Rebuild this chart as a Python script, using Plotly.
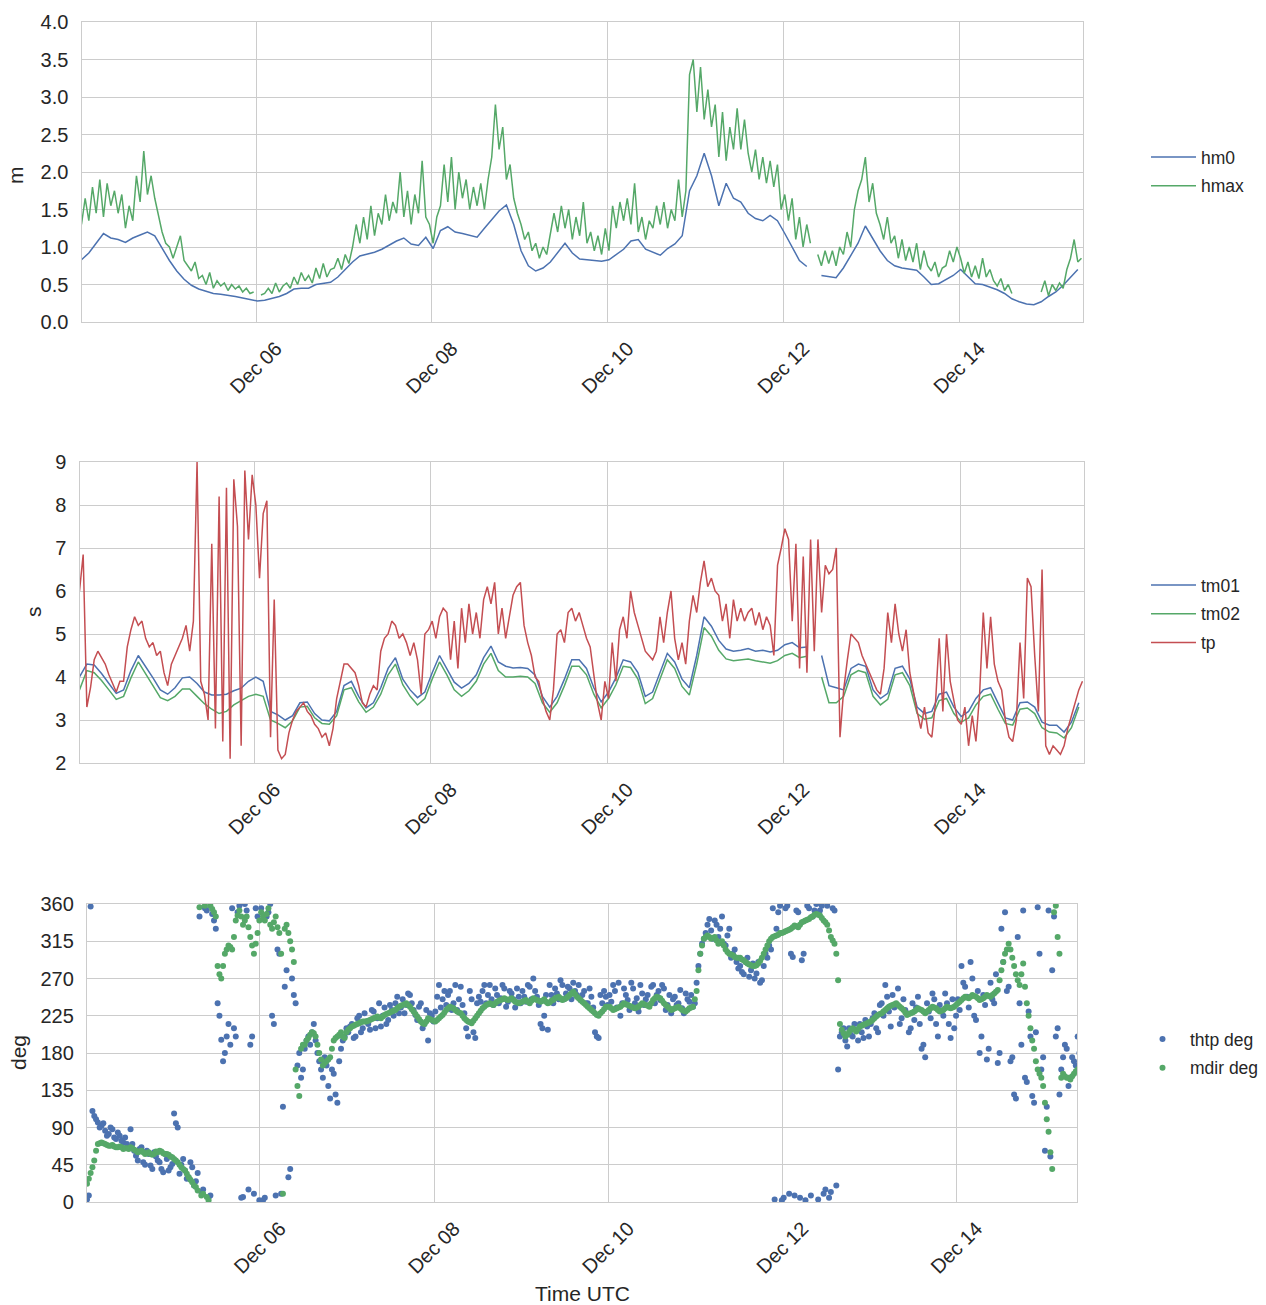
import pandas as pd
import plotly.graph_objects as go

START = "2015-12-04 00:20"

# ---------------- Panel 1: wave heights (m) ----------------
# hm0, 2-hourly
hm0 = [0.83, 0.92, 1.05, 1.18, 1.12, 1.10, 1.06, 1.12, 1.16, 1.20, 1.15, 0.98,
       0.82, 0.68, 0.57, 0.49, 0.44, 0.41, 0.38, 0.37, 0.36, 0.34, 0.32, 0.30,
       0.28, 0.29, 0.31, 0.34, 0.38, 0.44, 0.45, 0.45, 0.50, 0.52, 0.53, 0.60,
       0.70, 0.80, 0.88, 0.90, 0.93, 0.97, 1.03, 1.08, 1.12, 1.04, 1.02, 1.13,
       0.98, 1.22, 1.27, 1.20, 1.18, 1.15, 1.13, 1.25, 1.36, 1.48, 1.56, 1.30,
       0.95, 0.75, 0.68, 0.72, 0.80, 0.92, 1.05, 0.92, 0.84, 0.83, 0.82, 0.81,
       0.83, 0.90, 0.97, 1.08, 1.10, 0.97, 0.93, 0.89, 0.98, 1.04, 1.15, 1.75,
       1.95, 2.25, 1.95, 1.55, 1.85, 1.65, 1.60, 1.45, 1.38, 1.35, 1.42, 1.35,
       1.18, 0.99, 0.82, 0.74, None, 0.62, 0.60, 0.59, 0.72, 0.88, 1.05, 1.28,
       1.12, 0.95, 0.82, 0.75, 0.72, 0.70, 0.69, 0.60, 0.50, 0.51, 0.56, 0.62,
       0.70, 0.60, 0.51, 0.50, 0.47, 0.43, 0.38, 0.31, 0.27, 0.24, 0.23, 0.27,
       0.34, 0.40, 0.49, 0.60, 0.70]

# hmax, hourly
hmax = [1.30, 1.65, 1.35, 1.80, 1.45, 1.90, 1.40, 1.85, 1.55, 1.75, 1.45, 1.70,
        1.25, 1.55, 1.35, 1.95, 1.60, 2.28, 1.70, 1.95, 1.65, 1.40, 1.20, 1.05,
        1.00, 0.85, 1.00, 1.15, 0.82, 0.75, 0.68, 0.80, 0.58, 0.62, 0.50, 0.66,
        0.45, 0.55, 0.48, 0.52, 0.42, 0.50, 0.44, 0.48, 0.40, 0.45, 0.38, 0.40,
        None, 0.36, 0.38, 0.45, 0.38, 0.52, 0.40, 0.48, 0.52, 0.45, 0.60, 0.50,
        0.66, 0.55, 0.62, 0.52, 0.72, 0.58, 0.78, 0.60, 0.70, 0.72, 0.85, 0.70,
        0.90, 0.78, 1.00, 1.30, 1.05, 1.40, 1.10, 1.55, 1.15, 1.45, 1.30, 1.70,
        1.35, 1.60, 1.45, 2.00, 1.40, 1.75, 1.30, 1.70, 1.45, 2.15, 1.40, 1.30,
        1.05, 1.40, 1.55, 2.10, 1.60, 2.20, 1.50, 2.00, 1.65, 1.90, 1.50, 1.80,
        1.55, 1.85, 1.50, 1.90, 2.20, 2.90, 2.30, 2.60, 1.90, 2.10, 1.65, 1.45,
        1.30, 1.10, 1.20, 0.95, 1.05, 0.85, 1.00, 0.90, 1.15, 1.45, 1.20, 1.55,
        1.25, 1.50, 1.10, 1.40, 1.15, 1.60, 1.05, 1.20, 0.95, 1.15, 0.90, 1.25,
        0.95, 1.55, 1.25, 1.60, 1.35, 1.65, 1.30, 1.85, 1.20, 1.40, 1.10, 1.35,
        1.25, 1.55, 1.30, 1.60, 1.25, 1.50, 1.35, 1.90, 1.40, 1.75, 3.30, 3.50,
        2.80, 3.40, 2.70, 3.10, 2.60, 2.90, 2.20, 2.80, 2.15, 2.60, 2.30, 2.85,
        2.30, 2.70, 2.25, 2.00, 2.30, 1.90, 2.20, 1.85, 2.15, 1.80, 2.10, 1.50,
        1.70, 1.35, 1.65, 1.10, 1.40, 1.00, 1.30, 1.05, None, 0.90, 0.75, 0.95,
        0.78, 0.95, 0.75, 1.00, 0.90, 1.20, 1.00, 1.50, 1.75, 1.90, 2.20, 1.60,
        1.85, 1.45, 1.30, 1.10, 1.40, 1.05, 1.15, 0.85, 1.10, 0.82, 1.00, 0.80,
        1.05, 0.70, 0.95, 0.75, 0.68, 0.80, 0.60, 0.72, 0.75, 0.95, 0.80, 1.00,
        0.85, 0.65, 0.80, 0.60, 0.75, 0.58, 0.85, 0.60, 0.70, 0.55, 0.48, 0.58,
        0.42, 0.50, 0.38, None, None, None, None, None, None, None, 0.40, 0.55,
        0.35, 0.50, 0.42, 0.52, 0.45, 0.70, 0.85, 1.10, 0.80, 0.85]

# ---------------- Panel 2: wave periods (s) ----------------
tm01 = [4.00, 4.30, 4.28, 4.08, 3.85, 3.62, 3.70, 4.15, 4.50, 4.25, 3.98, 3.70,
        3.60, 3.75, 3.98, 4.00, 3.85, 3.65, 3.58, 3.58, 3.60, 3.68, 3.74, 3.90,
        4.00, 3.90, 3.20, 3.12, 3.00, 3.10, 3.40, 3.42, 3.15, 3.00, 2.98, 3.20,
        3.80, 3.90, 3.55, 3.28, 3.40, 3.75, 4.20, 4.45, 3.95, 3.70, 3.52, 3.65,
        4.10, 4.50, 4.20, 3.88, 3.74, 3.85, 4.05, 4.45, 4.72, 4.35, 4.25, 4.21,
        4.22, 4.20, 4.05, 3.55, 3.30, 3.55, 3.95, 4.40, 4.40, 4.20, 3.75, 3.42,
        3.65, 3.98, 4.40, 4.35, 4.10, 3.55, 3.65, 4.10, 4.55, 4.35, 3.95, 3.75,
        4.50, 5.40, 5.18, 4.85, 4.65, 4.60, 4.62, 4.66, 4.60, 4.62, 4.58, 4.62,
        4.75, 4.80, 4.68, 4.70, None, 4.50, 3.80, 3.75, 3.70, 4.20, 4.30, 4.25,
        3.70, 3.50, 3.62, 4.20, 4.25, 3.95, 3.30, 3.15, 3.20, 3.60, 3.65, 3.30,
        3.08, 3.20, 3.50, 3.70, 3.75, 3.40, 3.05, 3.00, 3.40, 3.42, 3.30, 2.95,
        2.88, 2.88, 2.72, 2.95, 3.40]

tm02 = [3.70, 4.15, 4.10, 3.92, 3.70, 3.48, 3.55, 3.98, 4.35, 4.08, 3.80, 3.52,
        3.45, 3.55, 3.72, 3.72, 3.55, 3.38, 3.25, 3.15, 3.20, 3.35, 3.45, 3.55,
        3.60, 3.55, 3.00, 2.92, 2.82, 2.98, 3.30, 3.32, 3.05, 2.92, 2.90, 3.10,
        3.70, 3.75, 3.42, 3.18, 3.30, 3.60, 4.05, 4.30, 3.82, 3.55, 3.35, 3.50,
        3.95, 4.35, 4.05, 3.70, 3.55, 3.68, 3.90, 4.30, 4.55, 4.15, 4.00, 4.00,
        4.02, 4.00, 3.85, 3.40, 3.18, 3.40, 3.80, 4.25, 4.25, 4.05, 3.60, 3.28,
        3.50, 3.82, 4.25, 4.22, 3.95, 3.38, 3.50, 3.95, 4.40, 4.20, 3.78, 3.58,
        4.30, 5.15, 4.95, 4.62, 4.42, 4.38, 4.40, 4.42, 4.38, 4.35, 4.32, 4.38,
        4.50, 4.55, 4.45, 4.48, None, 4.00, 3.40, 3.40, 3.55, 4.05, 4.15, 4.10,
        3.55, 3.35, 3.48, 4.05, 4.10, 3.80, 3.15, 3.02, 3.05, 3.45, 3.50, 3.15,
        2.95, 3.05, 3.35, 3.55, 3.60, 3.25, 2.92, 2.88, 3.25, 3.28, 3.15, 2.82,
        2.72, 2.70, 2.58, 2.82, 3.30]

# tp, hourly
tp = [6.0, 6.85, 3.3, 3.75, 4.4, 4.6, 4.45, 4.3, 4.05, 3.85, 3.65, 3.9,
      3.9, 4.7, 5.1, 5.4, 5.2, 5.3, 4.9, 4.7, 4.8, 4.5, 4.6, 4.1,
      3.8, 4.3, 4.5, 4.7, 4.9, 5.2, 4.6, 5.3, 9.0, 3.9, 3.6, 3.0,
      7.1, 2.8, 8.2, 2.5, 8.4, 2.1, 8.6, 7.5, 2.4, 8.8, 7.2, 8.7,
      8.0, 6.3, 7.8, 8.1, 2.6, 5.8, 2.3, 2.1, 2.2, 2.7, 3.0, 3.2,
      3.3, 3.4, 3.2, 3.1, 2.9, 2.8, 2.6, 2.7, 2.4, 2.8, 3.5, 3.9,
      4.3, 4.3, 4.2, 4.1, 3.8, 3.4, 3.3, 3.6, 3.8, 3.7, 4.6, 4.9,
      5.0, 5.3, 5.2, 4.9, 5.0, 4.8, 4.5, 4.8, 4.4, 3.6, 5.0, 5.1,
      5.3, 4.9, 5.4, 5.6, 5.5, 4.4, 5.3, 4.2, 5.6, 4.8, 5.7, 5.0,
      5.5, 4.9, 5.8, 6.1, 5.7, 6.2, 5.0, 5.6, 4.9, 5.4, 5.9, 6.1,
      6.2, 5.2, 4.8, 4.5, 4.0, 3.9, 3.5, 3.2, 3.0, 3.7, 5.0, 5.1,
      4.8, 5.5, 5.6, 5.3, 5.5, 5.2, 4.9, 4.7, 4.1, 3.4, 3.0, 3.9,
      3.5, 4.8, 3.9, 5.1, 5.4, 4.9, 6.0, 5.5, 5.2, 4.9, 4.6, 4.5,
      4.4, 4.6, 5.4, 4.8, 5.5, 6.0, 4.9, 4.4, 4.8, 4.3, 5.3, 5.9,
      5.5, 6.2, 6.7, 6.1, 6.3, 6.0, 5.9, 5.3, 5.7, 4.9, 5.8, 5.3,
      5.6, 5.3, 5.5, 5.6, 5.2, 5.5, 5.1, 5.4, 5.2, 4.5, 6.6, 7.0,
      7.45, 7.2, 5.3, 7.1, 4.2, 6.8, 4.1, 7.2, 4.6, 7.2, 5.5, 6.6,
      6.4, 6.5, 7.0, 2.6, 3.7, 4.4, 5.0, 4.9, 4.8, 4.5, 4.3, 4.1,
      3.9, 3.7, 3.6, 4.2, 5.5, 4.8, 5.7, 5.0, 4.6, 5.1, 4.1, 3.6,
      3.2, 2.8, 3.3, 2.7, 2.6, 3.4, 4.9, 3.2, 5.0, 3.9, 3.4, 3.0,
      2.9, 3.3, 2.4, 3.1, 2.5, 3.6, 5.5, 4.2, 5.4, 4.3, 3.9, 3.7,
      3.0, 2.6, 2.5, 3.0, 4.8, 3.5, 6.3, 6.1, 4.5, 3.2, 6.5, 2.4,
      2.2, 2.4, 2.3, 2.2, 2.4, 2.8, 3.1, 3.4, 3.7, 3.9]

# ---------------- Panel 3: directions (deg) ----------------
# readings on the hour
thtp = [3, 357, 104, 96, 92, 86, 82, 88, 76, 80, 72, 70,
        88, 62, 50, 66, 45, 58, 40, 55, 48, 36, 52, 42,
        107, 90, 45, 38, 30, 42, 25, 345, 15, 352, 8, 340,
        240, 196, 180, 215, 355, 200, 358, 6, 352, 190, 10, 345,
        355, 5, 350, 225, 8, 300, 115, 280, 40, 250, 165, 150,
        185, 200, 205, 195, 170, 150, 165, 125, 155, 120, 185, 200,
        205, 215, 200, 225, 210, 218, 208, 230, 222, 212, 235, 220,
        232, 240, 228, 245, 238, 250, 232, 220, 240, 215, 195, 225,
        230, 262, 245, 238, 255, 240, 232, 260, 228, 200, 245, 198,
        248, 255, 240, 262, 238, 250, 246, 258, 242, 252, 235, 248,
        255, 242, 260, 270, 248, 215, 225, 208, 250, 258, 245, 262,
        252, 258, 265, 250, 244, 255, 240, 248, 205, 198, 240, 248,
        250, 262, 235, 225, 258, 244, 265, 240, 230, 252, 245, 238,
        262, 250, 244, 258, 238, 228, 248, 240, 234, 252, 242, 236,
        265, 300, 318, 335, 328, 340, 320, 345, 310, 330, 300, 290,
        285, 275, 295, 280, 270, 290, 268, 300, 310, 355, 330, 358,
        5, 358, 300, 8, 350, 292, 2, 355, 345, 360, 352, 10,
        358, 12, 352, 160, 205, 195, 210, 200, 208, 215, 198, 212,
        215, 228, 205, 240, 262, 230, 250, 238, 215, 245, 228, 210,
        220, 248, 185, 175, 230, 252, 215, 238, 225, 240, 198, 210,
        245, 285, 260, 235, 270, 220, 180, 250, 172, 265, 240, 168,
        330, 350, 260, 175, 125, 240, 352, 145, 200, 120, 356, 160,
        62, 352, 280, 200, 130, 175, 185, 150, 170, 200]

mdir = [22, 35, 50, 70, 72, 70, 68, 69, 66, 67, 64, 65,
        66, 63, 60, 62, 58, 60, 57, 61, 62, 59, 58, 55,
        52, 48, 42, 38, 30, 24, 18, 356, 10, 6, 358, 350,
        285, 270, 300, 310, 305, 340, 352, 335, 345, 320, 300, 325,
        350, 340, 355, 330, 345, 325, 10, 335, 315, 290, 140, 185,
        190, 198, 205, 200, 180, 165, 170, 175, 195, 200, 205, 198,
        208, 212, 214, 216, 218, 218, 220, 222, 224, 222, 226, 228,
        230, 232, 236, 238, 240, 236, 230, 224, 218, 215, 222, 220,
        218, 222, 226, 232, 236, 234, 230, 228, 222, 218, 216, 222,
        228, 234, 238, 240, 238, 242, 244, 246, 244, 246, 242, 240,
        242, 244, 240, 246, 244, 242, 245, 240, 243, 246, 248, 244,
        246, 250, 254, 248, 244, 240, 236, 232, 228, 225, 230, 236,
        236, 232, 234, 236, 240, 238, 236, 234, 236, 240, 238, 236,
        244, 248, 246, 240, 236, 232, 234, 236, 232, 230, 234, 236,
        255, 300, 318, 322, 318, 320, 312, 315, 305, 300, 298, 295,
        295, 292, 288, 286, 285, 288, 295, 305, 315, 320, 322, 325,
        326, 328, 330, 334, 332, 338, 340, 342, 345, 348, 346, 340,
        335, 320, 312, 268, 208, 200, 205, 210, 206, 212, 214, 216,
        218, 222, 226, 228, 232, 236, 238, 240, 236, 232, 226, 228,
        230, 234, 232, 228, 232, 236, 234, 230, 232, 236, 234, 236,
        240, 244, 248, 246, 250, 248, 244, 246, 250, 248, 252, 256,
        280, 300, 312, 295, 275, 262, 288, 240, 210, 185, 160, 150,
        120, 85, 40, 358, 300, 155, 150, 148, 155, 160]

# readings at half past the hour
thtp_half = [8, 110, 100, 90, 95, 80, 90, 78, 84, 74, 78, 66,
             70, 56, 64, 48, 62, 44, 60, 50, 40, 58, 38, 46,
             95, 34, 52, 28, 48, 20, 35, 12, 355, 5, 348, 330,
             225, 170, 200, 190, 210, 350, 5, 360, 15, 200, 355, 2,
             2, 345, 360, 215, 305, 10, 260, 30, 270, 240, 180, 160,
             195, 190, 215, 180, 160, 175, 140, 160, 130, 170, 195, 210,
             212, 198, 222, 205, 228, 215, 232, 210, 240, 225, 215, 238,
             225, 248, 235, 228, 252, 240, 226, 236, 210, 232, 228, 218,
             248, 235, 255, 250, 232, 262, 245, 238, 210, 255, 205, 240,
             242, 262, 250, 245, 258, 240, 262, 236, 255, 245, 258, 240,
             248, 262, 245, 255, 238, 210, 250, 262, 240, 252, 268, 245,
             260, 245, 255, 262, 250, 240, 258, 235, 200, 250, 255, 238,
             242, 255, 265, 240, 250, 232, 258, 246, 262, 238, 250, 260,
             240, 255, 262, 232, 250, 245, 238, 256, 228, 245, 250, 240,
             285, 312, 325, 342, 318, 335, 330, 312, 322, 295, 305, 282,
             278, 290, 272, 288, 276, 265, 285, 295, 305, 3, 350, 2,
             355, 10, 296, 352, 5, 300, 358, 8, 352, 3, 358, 15,
             5, 355, 20, 200, 210, 188, 202, 215, 195, 205, 220, 200,
             222, 210, 238, 225, 248, 212, 235, 258, 222, 232, 205, 240,
             235, 215, 190, 240, 222, 245, 200, 230, 252, 215, 245, 225,
             232, 265, 248, 290, 225, 255, 200, 238, 185, 245, 275, 180,
             290, 255, 170, 130, 320, 190, 150, 230, 128, 205, 300, 175,
             115, 55, 345, 210, 160, 190, 140, 175, 165, 180]

mdir_half = [28, 42, 62, 71, 71, 69, 68, 67, 66, 66, 65, 64,
             65, 62, 61, 60, 59, 58, 58, 60, 61, 58, 57, 54,
             50, 45, 40, 34, 27, 20, 14, 8, 358, 2, 354, 345,
             275, 285, 305, 308, 320, 346, 345, 340, 332, 310, 312, 340,
             345, 348, 335, 338, 332, 300, 330, 325, 305, 160, 128, 190,
             195, 202, 204, 190, 172, 168, 172, 185, 198, 202, 200, 205,
             210, 213, 215, 217, 218, 219, 221, 223, 223, 224, 227, 229,
             231, 234, 237, 239, 238, 233, 227, 221, 216, 218, 221, 219,
             220, 224, 229, 234, 235, 232, 229, 225, 220, 217, 219, 225,
             231, 236, 239, 239, 240, 243, 245, 245, 245, 244, 241, 241,
             243, 242, 243, 245, 243, 243, 242, 241, 244, 247, 246, 245,
             248, 252, 251, 246, 242, 238, 234, 230, 226, 228, 233, 236,
             234, 233, 235, 238, 239, 237, 235, 235, 238, 239, 237, 240,
             246, 247, 243, 238, 234, 233, 235, 234, 231, 232, 235, 245,
             280, 310, 320, 320, 319, 316, 313, 310, 302, 299, 296, 295,
             293, 290, 287, 285, 286, 291, 300, 310, 318, 321, 323, 325,
             327, 329, 332, 333, 335, 339, 341, 344, 347, 347, 343, 338,
             328, 316, 300, 215, 204, 202, 208, 208, 209, 213, 215, 217,
             220, 224, 227, 230, 234, 237, 239, 238, 234, 229, 227, 229,
             232, 233, 230, 230, 234, 235, 232, 231, 234, 235, 235, 238,
             242, 246, 247, 248, 249, 246, 245, 248, 249, 250, 254, 268,
             290, 305, 305, 285, 268, 275, 260, 225, 195, 170, 155, 140,
             100, 60, 350, 320, 150, 152, 150, 152, 158, 162]

tick_dates = ["2015-12-06", "2015-12-08", "2015-12-10", "2015-12-12", "2015-12-14"]
tick_text = ["Dec 06", "Dec 08", "Dec 10", "Dec 12", "Dec 14"]

t2 = pd.date_range(START, periods=len(hm0), freq="2h")
t1 = pd.date_range(START, periods=len(tp), freq="h")
t1h = t1 + pd.Timedelta(minutes=30)

BLUE, GREEN, RED = "#4C72B0", "#55A868", "#C44E52"
TXT = "#262626"
GRID = "#cccccc"
FONT = "Liberation Sans"
W, H = 1266, 1305

fig = go.Figure()


def line(x, y, name, color, xa, ya, leg):
    fig.add_trace(go.Scatter(x=x, y=y, name=name, mode="lines", legendgroup=name,
                             line=dict(color=color, width=1.5),
                             connectgaps=False, xaxis=xa, yaxis=ya, legend=leg))


line(t2, hm0, "hm0", BLUE, "x", "y", "legend")
line(t1, hmax, "hmax", GREEN, "x", "y", "legend")
line(t2, tm01, "tm01", BLUE, "x2", "y2", "legend2")
line(t2, tm02, "tm02", GREEN, "x2", "y2", "legend2")
line(t1, tp, "tp", RED, "x2", "y2", "legend2")

for ya, yb, name, color in [(thtp, thtp_half, "thtp deg", BLUE),
                            (mdir, mdir_half, "mdir deg", GREEN)]:
    fig.add_trace(go.Scatter(x=list(t1) + list(t1h), y=ya + yb, name=name,
                             mode="markers", legendgroup=name,
                             marker=dict(color=color, size=6, line=dict(width=0)),
                             xaxis="x3", yaxis="y3", legend="legend3"))


def px_x(p):
    return p / W


def px_y(p):
    return 1 - p / H


xcommon = dict(type="date", tickmode="array", tickvals=tick_dates, ticktext=tick_text,
               tickangle=-45, showgrid=True, gridcolor=GRID, gridwidth=1,
               showline=True, linecolor=GRID, linewidth=1.3, mirror=True,
               zeroline=False, ticks="", automargin=False,
               tickfont=dict(size=20, color=TXT, family=FONT),
               ticklabelshift=20, ticklabelstandoff=6)
ycommon = dict(showgrid=True, gridcolor=GRID, gridwidth=1, showline=True, linecolor=GRID,
               linewidth=1.3, mirror=True, zeroline=False, ticks="", automargin=False,
               tickfont=dict(size=20, color=TXT, family=FONT), ticklabelstandoff=8)

leg_common = dict(xanchor="left", yanchor="top", font=dict(size=17.5, color=TXT, family=FONT),
                  bgcolor="rgba(0,0,0,0)", borderwidth=0, tracegroupgap=3,
                  itemwidth=45)

fig.update_layout(
    template="none",
    width=W, height=H, margin=dict(l=0, r=0, t=0, b=0, pad=0, autoexpand=False),
    paper_bgcolor="white", plot_bgcolor="white",
    font=dict(family=FONT, color=TXT, size=20),
    hovermode=False,
    xaxis=dict(domain=[px_x(81.5), px_x(1083)], anchor="y",
               range=["2015-12-04 00:20", "2015-12-15 09:45"], **xcommon),
    yaxis=dict(domain=[px_y(322), px_y(22)], anchor="x", range=[0, 4], dtick=0.5,
               tickformat=".1f", **ycommon),
    xaxis2=dict(domain=[px_x(79.5), px_x(1084)], anchor="y2",
                range=["2015-12-04 00:20", "2015-12-15 09:45"], **xcommon),
    yaxis2=dict(domain=[px_y(763), px_y(462)], anchor="x2", range=[2, 9], dtick=1, **ycommon),
    xaxis3=dict(domain=[px_x(87), px_x(1077)], anchor="y3",
                range=["2015-12-04 00:20", "2015-12-15 09:10"], **xcommon),
    yaxis3=dict(domain=[px_y(1202), px_y(904)], anchor="x3", range=[0, 360], dtick=45, **ycommon),
    legend=dict(x=px_x(1146), y=px_y(139), **leg_common),
    legend2=dict(x=px_x(1146), y=px_y(567), **leg_common),
    legend3=dict(x=px_x(1135), y=px_y(1021), **leg_common),
    showlegend=True,
    annotations=[
        dict(text="m", x=px_x(15), y=px_y(175), xref="paper", yref="paper",
             xanchor="center", yanchor="middle",
             showarrow=False, textangle=-90, font=dict(size=21, color=TXT)),
        dict(text="s", x=px_x(33), y=px_y(612), xref="paper", yref="paper",
             xanchor="center", yanchor="middle",
             showarrow=False, textangle=-90, font=dict(size=21, color=TXT)),
        dict(text="deg", x=px_x(18), y=px_y(1053), xref="paper", yref="paper",
             xanchor="center", yanchor="middle",
             showarrow=False, textangle=-90, font=dict(size=21, color=TXT)),
        dict(text="Time UTC", x=px_x(582), y=px_y(1293), xref="paper", yref="paper",
             xanchor="center", yanchor="middle",
             showarrow=False, font=dict(size=21, color=TXT)),
    ],
)

fig.write_html("out.html", config={"displayModeBar": False},
               post_script="document.body.style.margin='0px';")
